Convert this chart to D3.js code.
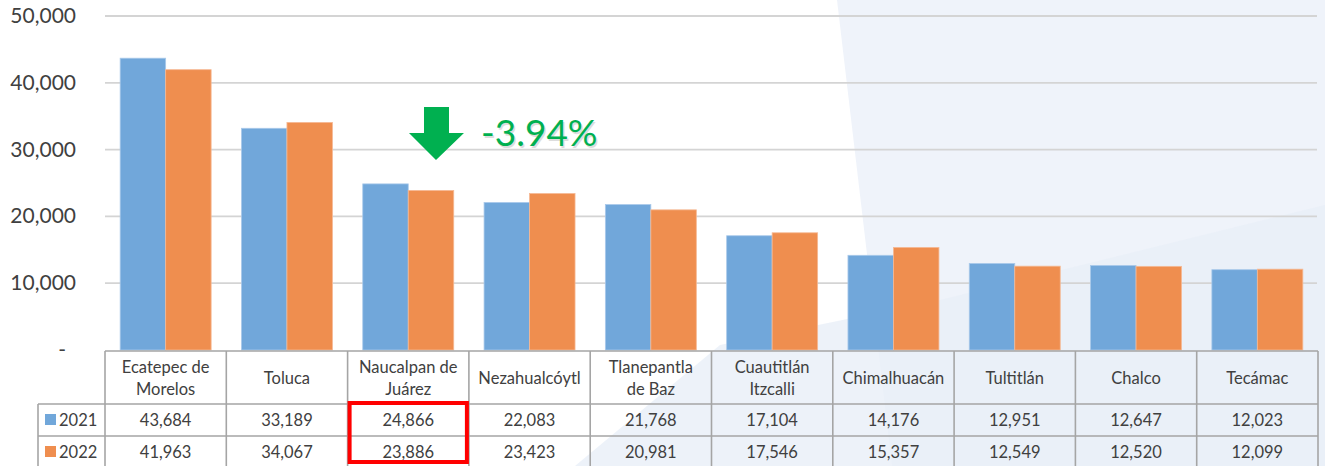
<!DOCTYPE html>
<html>
<head>
<meta charset="utf-8">
<script src="https://cdn.jsdelivr.net/npm/d3@7"></script>
<style>
  body { margin: 0; background: #fff; }
  svg { display: block; font-family: Lato, "Open Sans", sans-serif; }
</style>
</head>
<body>
<svg width="1325" height="466"></svg>
<script>
// categories (header labels, line breaks with |)
var categories = ["Ecatepec de|Morelos", "Toluca", "Naucalpan de|Juárez", "Nezahualcóytl",
  "Tlanepantla|de Baz", "Cuautitlán|Itzcalli", "Chimalhuacán", "Tultitlán", "Chalco", "Tecámac"];
var years = ["2021", "2022"];
var v2021 = [43684, 33189, 24866, 22083, 21768, 17104, 14176, 12951, 12647, 12023];
var v2022 = [41963, 34067, 23886, 23423, 20981, 17546, 15357, 12549, 12520, 12099];
var yTicks = [0, 10000, 20000, 30000, 40000, 50000];
var colors = ["#71a7da", "#ef8e4f"];
var highlight = 2;   // Naucalpan
var changeLabel = "-3.94%";

var svg = d3.select("svg");

// light background shapes on the right
svg.append("polygon")
  .attr("points", "837,0 1325,0 1325,466 892,466")
  .attr("fill", "#eff3fa");
svg.append("polygon")
  .attr("points", "575,466 720,345 940,300 1325,205 1325,466")
  .attr("fill", "#e8eff8").attr("opacity", 0.8);

var x = d3.scaleBand().domain(d3.range(categories.length)).range([105, 1318])
  .paddingInner(0.25).paddingOuter(0.125);
var xs = d3.scaleBand().domain(years).range([0, x.bandwidth()]);
var y = d3.scaleLinear().domain([0, 50000]).range([350, 16]);
var step = x.step();
var cellLeft = function(i){ return 105 + i * step; };

// gridlines
svg.append("g").selectAll("line").data(yTicks.filter(function(d){ return d > 0; }))
  .enter().append("line")
  .attr("x1", 105).attr("x2", 1317)
  .attr("y1", function(d){ return y(d); }).attr("y2", function(d){ return y(d); })
  .attr("stroke", "#d4d4d4").attr("stroke-width", 1.8);

// y labels
svg.append("g").selectAll("text").data(yTicks).enter().append("text")
  .attr("x", function(d){ return d == 0 ? 66 : 76; })
  .attr("y", function(d){ return y(d) + 7; })
  .attr("text-anchor", "end")
  .attr("font-size", 21).attr("fill", "#404040")
  .text(function(d){ return d == 0 ? "-" : d3.format(",")(d); });

// bars
var series = [v2021, v2022];
series.forEach(function(vals, s){
  svg.append("g").selectAll("rect").data(vals).enter().append("rect")
    .attr("x", function(d, i){ return x(i) + xs(years[s]); })
    .attr("y", function(d){ return y(d); })
    .attr("width", xs.bandwidth())
    .attr("height", function(d){ return y(0) - y(d); })
    .attr("fill", colors[s])
    .attr("stroke", s == 0 ? "#a9c9ea" : "#f5b994").attr("stroke-width", 0.8);
});

// data table
var tTop = 351, r1 = 404, r2 = 436, tBot = 466, legL = 38;
var grid = svg.append("g").attr("stroke", "#a5a5a5").attr("stroke-width", 1.6);
grid.append("line").attr("x1", 105).attr("x2", 1318).attr("y1", tTop).attr("y2", tTop);
grid.append("line").attr("x1", legL).attr("x2", 1318).attr("y1", r1).attr("y2", r1);
grid.append("line").attr("x1", legL).attr("x2", 1318).attr("y1", r2).attr("y2", r2);
grid.append("line").attr("x1", legL).attr("x2", legL).attr("y1", r1).attr("y2", tBot);
grid.selectAll("line.v").data(d3.range(categories.length + 1)).enter().append("line")
  .attr("x1", function(i){ return cellLeft(i); }).attr("x2", function(i){ return cellLeft(i); })
  .attr("y1", tTop).attr("y2", tBot);

// header labels
var hdr = svg.append("g").attr("font-size", 16.5).attr("fill", "#404040").attr("text-anchor", "middle");
categories.forEach(function(c, i){
  var lines = c.split("|");
  var cx = cellLeft(i) + step / 2;
  lines.forEach(function(l, k){
    var cy = lines.length == 1 ? 384 : 373 + k * 22;
    hdr.append("text").attr("x", cx).attr("y", cy).text(l);
  });
});

// values
var rowY = [r1 + 22, r2 + 22];
series.forEach(function(vals, s){
  svg.append("g").selectAll("text").data(vals).enter().append("text")
    .attr("x", function(d, i){ return cellLeft(i) + step / 2; })
    .attr("y", rowY[s])
    .attr("text-anchor", "middle").attr("font-size", 16.5).attr("fill", "#404040")
    .text(function(d){ return d3.format(",")(d); });
  svg.append("rect").attr("x", 45).attr("y", rowY[s] - 12).attr("width", 11).attr("height", 11)
    .attr("fill", colors[s]);
  svg.append("text").attr("x", 59).attr("y", rowY[s]).attr("font-size", 16.5).attr("fill", "#404040")
    .text(years[s]);
});

// highlight box
svg.append("rect")
  .attr("x", cellLeft(highlight) + 2).attr("y", r1 - 1)
  .attr("width", step - 4).attr("height", 59)
  .attr("fill", "none").attr("stroke", "#ff0000").attr("stroke-width", 4);

// down arrow + label
var ax = x(highlight) + xs("2022") + xs.bandwidth() / 2 + 5;
var arrow = d3.path();
arrow.moveTo(ax - 12, 107); arrow.lineTo(ax + 13, 107); arrow.lineTo(ax + 13, 133);
arrow.lineTo(ax + 28, 133); arrow.lineTo(ax, 160); arrow.lineTo(ax - 27, 133);
arrow.lineTo(ax - 12, 133); arrow.closePath();
svg.append("path").attr("d", arrow.toString()).attr("fill", "#00b050");

svg.append("text").attr("x", 481).attr("y", 146).attr("font-size", 37)
  .attr("fill", "#c8c8c8").attr("opacity", 0.6).attr("transform", "translate(1.5,1.5)")
  .text(changeLabel);
svg.append("text").attr("x", 481).attr("y", 146).attr("font-size", 37)
  .attr("fill", "#00b050").text(changeLabel);
</script>
</body>
</html>
